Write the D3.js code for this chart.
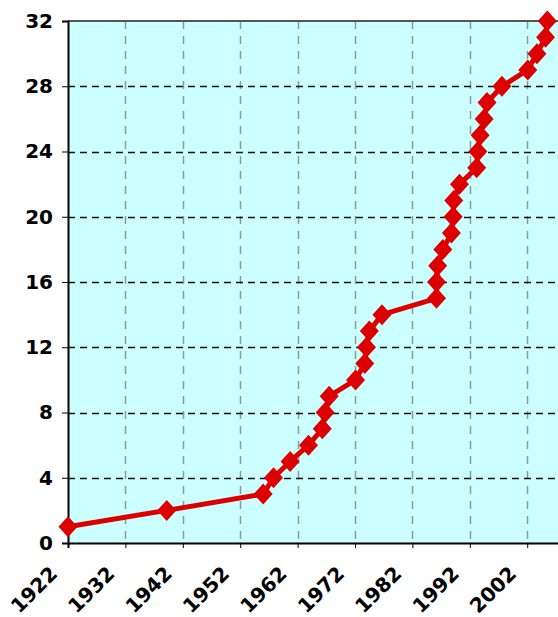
<html lang="en">
  <head>
    <meta charset="UTF-8" />
    <title>Cumulative count by year</title>
    <script src="https://d3js.org/d3.v7.min.js"></script>
  </head>
  <style>
    body {
      margin: 0px;
      overflow: hidden;
      background: #fff;
    }
    text {
      font-family: "DejaVu Sans", Verdana, sans-serif;
      font-weight: bold;
      font-size: 20px;
      fill: #000;
    }
  </style>
  <body>
    <svg width="558" height="617"></svg>
    <script>
      // year of each event (decimal years)
      var years = [
        1922, 1939.2, 1956.0, 1957.8, 1960.7, 1963.9, 1966.3, 1966.8, 1967.5,
        1972.1, 1973.7, 1974.0, 1974.5, 1976.7, 1986.2, 1986.2, 1986.4,
        1987.3, 1988.8, 1989.1, 1989.2, 1990.2, 1993.2, 1993.4, 1993.8,
        1994.5, 1995.0, 1997.6, 2002.1, 2003.7, 2005.2, 2005.5
      ];
      // running total at each event
      var counts = [
        1, 2, 3, 4, 5, 6, 7, 8, 9, 10, 11, 12, 13, 14, 15, 16, 17, 18, 19, 20,
        21, 22, 23, 24, 25, 26, 27, 28, 29, 30, 31, 32
      ];
      var xTicks = [1922, 1932, 1942, 1952, 1962, 1972, 1982, 1992, 2002];
      var yTicks = [0, 4, 8, 12, 16, 20, 24, 28, 32];

      var data = years.map(function (y, i) {
        return { x: y, y: counts[i] };
      });

      var svg = d3.select("svg");
      var margin = { left: 68, top: 21, bottom: 543 };

      var xScale = d3
        .scaleLinear()
        .domain([1922, 2008])
        .range([margin.left, margin.left + 86 * 5.74]);

      var yScale = d3
        .scaleLinear()
        .domain([0, 32])
        .range([margin.bottom, margin.top]);

      // plot area
      svg
        .append("rect")
        .attr("x", margin.left)
        .attr("y", margin.top)
        .attr("width", xScale(2008) - margin.left)
        .attr("height", margin.bottom - margin.top)
        .attr("fill", "#ccffff");

      // vertical grid
      svg
        .append("g")
        .selectAll("line")
        .data(xTicks.slice(1))
        .enter()
        .append("line")
        .attr("x1", function (d) { return Math.round(xScale(d)) + 0.5; })
        .attr("x2", function (d) { return Math.round(xScale(d)) + 0.5; })
        .attr("y1", margin.top)
        .attr("y2", margin.bottom)
        .attr("stroke", "#8c9a9a")
        .attr("stroke-width", 1.5)
        .attr("stroke-dasharray", "8,7");

      // horizontal grid
      svg
        .append("g")
        .selectAll("line")
        .data(yTicks.slice(1, -1))
        .enter()
        .append("line")
        .attr("x1", margin.left)
        .attr("x2", 558)
        .attr("y1", function (d) { return Math.round(yScale(d)) + 0.5; })
        .attr("y2", function (d) { return Math.round(yScale(d)) + 0.5; })
        .attr("stroke", "#111")
        .attr("stroke-width", 1.3)
        .attr("stroke-dasharray", "7,5");

      // top border
      svg
        .append("line")
        .attr("x1", margin.left)
        .attr("x2", 558)
        .attr("y1", margin.top)
        .attr("y2", margin.top)
        .attr("stroke", "#555")
        .attr("stroke-width", 2);

      // axes
      var yAxis = svg
        .append("g")
        .attr("transform", "translate(" + margin.left + ",0)")
        .call(
          d3.axisLeft(yScale).tickValues(yTicks).tickSize(6).tickPadding(9)
        );
      yAxis.select(".domain").attr("stroke", "#000").attr("stroke-width", 2);
      yAxis.selectAll(".tick line").attr("stroke", "#000");
      yAxis.selectAll("text").attr("font-size", "20px").attr("font-family", null);

      var xAxis = svg
        .append("g")
        .attr("transform", "translate(0," + margin.bottom + ")")
        .call(
          d3.axisBottom(xScale).tickValues(xTicks).tickSize(5).tickFormat(d3.format("d"))
        );
      xAxis.select(".domain").attr("stroke", "#000").attr("stroke-width", 2);
      xAxis.selectAll(".tick line").attr("stroke", "#000");
      xAxis
        .selectAll("text")
        .attr("font-size", "19px")
        .attr("font-family", null)
        .attr("text-anchor", "end")
        .attr("dy", null)
        .attr("y", 0)
        .attr("transform", "translate(-10,32) rotate(-45)");

      // series line
      var line = d3
        .line()
        .x(function (d) { return xScale(d.x); })
        .y(function (d) { return yScale(d.y); });

      svg
        .append("path")
        .datum(data)
        .attr("d", line)
        .attr("fill", "none")
        .attr("stroke", "#dd0000")
        .attr("stroke-width", 5)
        .attr("stroke-linejoin", "round");

      // diamond markers
      svg
        .append("g")
        .selectAll("path")
        .data(data)
        .enter()
        .append("path")
        .attr("d", "M0,-10.5L9.5,0L0,10.5L-9.5,0Z")
        .attr("transform", function (d) {
          return "translate(" + xScale(d.x) + "," + yScale(d.y) + ")";
        })
        .attr("fill", "#dd0000");
    </script>
  </body>
</html>
